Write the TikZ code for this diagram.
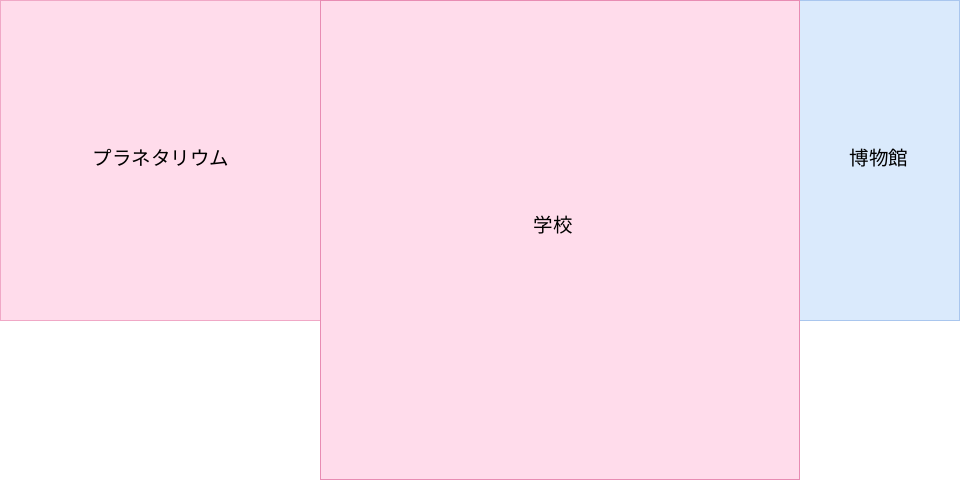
\documentclass[tikz,border=0pt]{standalone}
\usepackage{fontspec}
\setmainfont{Noto Sans CJK JP}
\definecolor{pinkfill}{HTML}{FFDCEB}
\definecolor{pinkline}{HTML}{E88CB3}
\definecolor{pinkline2}{HTML}{F0A8C6}
\definecolor{bluefill}{HTML}{DAEAFC}
\definecolor{blueline}{HTML}{A9C6EE}
\begin{document}
\begin{tikzpicture}[x=1pt,y=-1pt,
  pinkroom/.style={fill=pinkfill,draw=pinkline,line width=1pt},
  blueroom/.style={fill=bluefill,draw=blueline,line width=1pt},
  roomlabel/.style={font=\fontsize{19.5}{22}\selectfont,text=black,inner sep=0pt}]
\useasboundingbox (0,0) rectangle (960,481);
\draw[pinkroom,draw=pinkline2] (0.5,0.5) rectangle (320,320);
\draw[blueroom] (799.5,0.5) rectangle (959.5,320);
\draw[pinkroom] (320,0.5) rectangle (799.5,479.5);
\node[roomlabel] (planet) at (161,158) {プラネタリウム};
\node[roomlabel] (school) at (553,225) {学校};
\node[roomlabel] (museum) at (879,158) {博物館};
\end{tikzpicture}
\end{document}
